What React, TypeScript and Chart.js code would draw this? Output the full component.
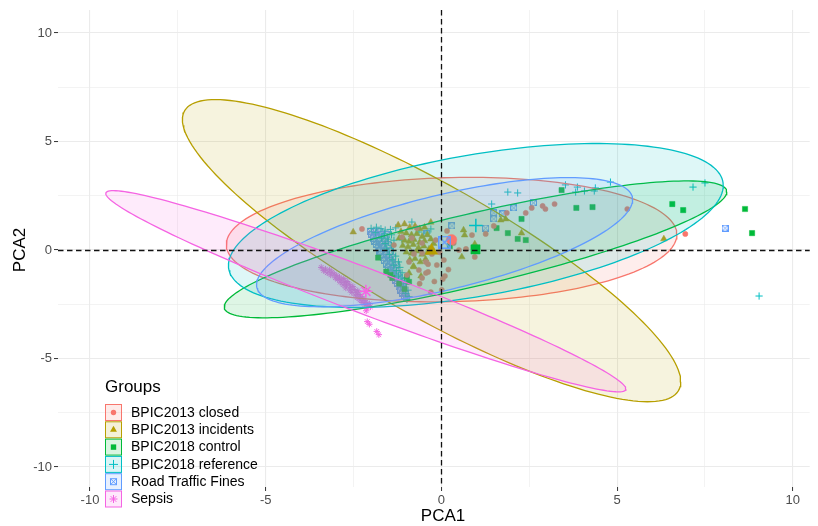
import React, { useEffect, useRef } from "react";
import { Chart, registerables } from "chart.js";

Chart.register(...registerables);

const FONT = "'Liberation Sans', Arial, Helvetica, sans-serif";

// ---------------- data ----------------
const groupNames = [
  "BPIC2013 closed",
  "BPIC2013 incidents",
  "BPIC2018 control",
  "BPIC2018 reference",
  "Road Traffic Fines",
  "Sepsis",
];
const groupColors = ["#F8766D", "#B79F00", "#00BA38", "#00BFC4", "#619CFF", "#F564E3"];
const groupShapes = ["circle", "triangle", "rect", "cross", "boxcross", "star"];

const axisTickValues = [-10, -5, 0, 5, 10];

// BPIC2013 closed
const closedX = [-2.26, -1.12, -0.84, -0.55, -0.44, -0.64, -0.98, -0.38, 0.04, 0.35, 0.07, -0.27, -0.55, -0.38, -0.55, 0.01, 0.1, -0.3, -0.44, -0.78, -0.16, -0.7, -1.35, -0.13, -0.92, -0.2, -0.62, 0.2, 0.16, 0.5, 0.7, 0.87, 1.26, 1.49, 0.95, 1.86, 2.4, 2.57, 2.88, 2.96, 3.22, 5.29, 6.94, -0.05];
const closedY = [0.97, 0.6, 0.55, 0.32, -0.55, -0.92, -1.15, -1.01, -1.34, 0.32, -0.46, -0.18, -0.14, -0.65, -1.29, -1.84, -1.2, -1.94, -1.06, -0.18, 0.46, 1.01, 0.23, -0.69, -0.55, -1.45, -1.55, -0.9, 0.88, 0.0, 0.05, 0.69, 0.74, 1.11, -0.32, 1.71, 1.71, 1.94, 2.03, 1.89, 2.12, 1.89, 0.74, -0.1];

// BPIC2013 incidents
const incidentsX = [-2.51, -1.23, -1.05, -0.9, -0.75, -0.62, -0.48, -1.15, -1.0, -0.85, -0.7, -0.55, -0.4, -1.2, -1.05, -0.92, -0.78, -0.62, -0.48, -0.3, -1.1, -0.95, -0.8, -0.65, -0.5, -0.35, -1.0, -0.85, -0.7, -0.55, -0.4, -0.9, -0.75, -0.6, -0.45, -0.8, -0.92, -0.78, -0.58, -0.22, 0.63, 0.66, 1.69, 1.83, 2.28, 0.58, 0.95, 6.33, -0.3];
const incidentsY = [0.83, 1.15, 1.2, 1.05, 1.1, 0.98, 1.05, 0.85, 0.78, 0.7, 0.75, 0.62, 0.7, 0.55, 0.45, 0.4, 0.48, 0.35, 0.42, 0.5, 0.2, 0.15, 0.25, 0.1, 0.18, 0.05, -0.1, -0.15, -0.05, -0.2, -0.12, -0.45, -0.4, -0.55, -0.42, -0.75, -1.06, -0.78, -1.2, 0.3, 0.92, 0.69, 1.38, 1.43, 0.78, -0.32, 0.28, 0.51, 1.28];

// BPIC2018 control
const controlX = [-1.57, -1.45, -1.4, -1.2, -0.98, -0.92, -1.05, -1.8, 0.24, 1.57, 1.89, 2.17, 2.4, 2.28, 3.42, 3.84, 4.3, 6.57, 6.88, 8.64, 8.84];
const controlY = [-1.0, -1.15, -1.28, -1.55, -1.24, -1.47, -1.8, -0.35, 0.18, 1.01, 0.78, 0.51, 0.46, 1.43, 2.76, 1.94, 1.98, 2.12, 1.84, 1.89, 0.78];

// BPIC2018 reference
const referenceX = [-2.0, -1.85, -1.72, -1.6, -1.45, -1.3, -1.88, -1.62, -1.42, -1.7, -1.52, -1.35, -1.6, -1.42, -1.55, -1.38, -1.48, -1.3, -1.4, -1.22, -1.35, -1.18, -1.28, -1.12, -1.22, -1.05, -1.15, -1.0, -1.08, -0.95, -1.02, -0.92, -0.98, -0.84, -0.64, -0.41, -1.12, -0.3, 1.43, 1.89, 2.17, 3.53, 3.82, 3.87, 4.07, 4.35, 4.38, 4.81, 7.16, 7.5, 9.04];
const referenceY = [1.0, 1.05, 0.98, 0.92, 0.95, 1.02, 0.8, 0.75, 0.7, 0.55, 0.5, 0.45, 0.3, 0.22, 0.05, -0.02, -0.2, -0.28, -0.45, -0.55, -0.7, -0.8, -0.95, -1.05, -1.2, -1.3, -1.45, -1.55, -1.7, -1.85, -2.0, -2.15, -2.28, 1.29, 0.83, 0.78, 0.46, 0.97, 2.12, 2.67, 2.63, 3.0, 2.67, 2.9, 2.72, 2.72, 2.86, 3.13, 2.9, 3.09, -2.12];

// Road Traffic Fines
const trafficX = [-2.02, -1.9, -1.75, -1.98, -1.85, -1.7, -1.55, -1.93, -1.8, -1.62, -1.9, -1.76, -1.6, -1.85, -1.7, -1.52, -1.8, -1.65, -1.76, -1.6, -1.45, -1.72, -1.55, -1.66, -1.5, -1.38, -1.62, -1.45, -1.56, -1.4, -1.28, -1.5, -1.35, -1.45, -1.3, -1.4, -1.25, -1.35, -1.2, -1.3, -1.15, -1.25, -1.12, -1.2, -1.08, -1.15, -1.1, -1.02, -1.05, -0.98, 0.3, 1.49, 1.49, 1.26, 1.74, 2.06, 2.62, 8.07, -0.41];
const trafficY = [0.85, 0.85, 0.85, 0.7, 0.7, 0.7, 0.7, 0.55, 0.55, 0.55, 0.4, 0.4, 0.4, 0.25, 0.25, 0.25, 0.1, 0.1, -0.05, -0.05, -0.05, -0.2, -0.2, -0.35, -0.35, -0.35, -0.5, -0.5, -0.65, -0.65, -0.65, -0.8, -0.8, -0.95, -0.95, -1.1, -1.1, -1.25, -1.25, -1.4, -1.4, -1.55, -1.55, -1.7, -1.7, -1.85, -2.0, -2.0, -2.15, -2.25, 1.11, 1.71, 1.43, 1.01, 1.66, 1.94, 2.17, 1.01, 0.74];

// Sepsis
const sepsisX = [-3.42, -3.3, -3.35, -3.18, -3.25, -3.12, -3.05, -3.15, -2.98, -3.02, -2.9, -2.95, -2.85, -2.78, -2.88, -2.75, -2.68, -2.8, -2.7, -2.62, -2.72, -2.58, -2.52, -2.6, -2.48, -2.55, -2.42, -2.38, -2.45, -2.35, -2.3, -2.4, -2.25, -2.32, -2.2, -2.26, -2.15, -2.18, -2.1, -2.05, -2.12, -2.02, -2.14, -2.11, -2.05, -1.84, -1.78];
const sepsisY = [-0.8, -0.88, -0.95, -0.92, -1.05, -1.02, -1.1, -1.15, -1.18, -1.28, -1.25, -1.35, -1.38, -1.32, -1.48, -1.5, -1.45, -1.6, -1.62, -1.58, -1.75, -1.72, -1.68, -1.85, -1.82, -1.95, -1.95, -1.88, -2.08, -2.05, -2.15, -2.2, -2.22, -2.3, -2.32, -2.42, -2.4, -2.52, -2.55, -2.48, -2.65, -2.62, -2.8, -3.3, -3.42, -3.75, -3.9];

const groupX = [closedX, incidentsX, controlX, referenceX, trafficX, sepsisX];
const groupY = [closedY, incidentsY, controlY, referenceY, trafficY, sepsisY];

// group means (ellipse centres)
const meanX = [0.29, -0.28, 0.97, 0.98, 0.09, -2.15];
const meanY = [0.48, -0.03, 0.03, 1.13, 0.36, -1.9];
// ellipse conjugate semi-diameters: U = (ux, uy), V = (0, v)
const ellipseUx = [6.41, 7.09, 7.15, 7.04, 5.35, 7.4];
const ellipseUy = [0.23, -6.04, 2.65, 1.84, 1.96, -4.5];
const ellipseV = [2.86, 3.46, 1.71, 3.3, 2.24, 1.11];

// ---------------- helpers ----------------
const X_MIN = -10.91;
const X_MAX = 10.48;
const Y_MIN = -10.92;
const Y_MAX = 11.06;

function rgba(hex: string, a: number) {
  const n = parseInt(hex.slice(1), 16);
  return `rgba(${(n >> 16) & 255},${(n >> 8) & 255},${n & 255},${a})`;
}

function ellipseOutline(i: number) {
  const pts: { x: number; y: number }[] = [];
  const n = 180;
  for (let k = 0; k <= n; k++) {
    const t = (2 * Math.PI * k) / n;
    pts.push({
      x: meanX[i] + ellipseUx[i] * Math.cos(t),
      y: meanY[i] + ellipseUy[i] * Math.cos(t) + ellipseV[i] * Math.sin(t),
    });
  }
  return pts;
}

function makeBoxCross(size: number, color: string, lw: number) {
  const c = document.createElement("canvas");
  c.width = size;
  c.height = size;
  const g = c.getContext("2d")!;
  g.strokeStyle = color;
  g.lineWidth = lw;
  const p = lw / 2;
  g.strokeRect(p, p, size - lw, size - lw);
  g.beginPath();
  g.moveTo(p, p);
  g.lineTo(size - p, size - p);
  g.moveTo(size - p, p);
  g.lineTo(p, size - p);
  g.stroke();
  return c;
}

function drawSymbol(ctx: CanvasRenderingContext2D, shape: string, cx: number, cy: number, color: string) {
  ctx.save();
  ctx.fillStyle = color;
  ctx.strokeStyle = color;
  ctx.lineWidth = 1;
  ctx.beginPath();
  if (shape === "circle") {
    ctx.arc(cx, cy, 2.7, 0, Math.PI * 2);
    ctx.fill();
  } else if (shape === "triangle") {
    const r = 4;
    ctx.moveTo(cx, cy - r);
    ctx.lineTo(cx + r * 0.866, cy + r * 0.5);
    ctx.lineTo(cx - r * 0.866, cy + r * 0.5);
    ctx.closePath();
    ctx.fill();
  } else if (shape === "rect") {
    ctx.fillRect(cx - 2.7, cy - 2.7, 5.4, 5.4);
  } else if (shape === "cross") {
    ctx.moveTo(cx - 4.5, cy);
    ctx.lineTo(cx + 4.5, cy);
    ctx.moveTo(cx, cy - 4.5);
    ctx.lineTo(cx, cy + 4.5);
    ctx.stroke();
  } else if (shape === "boxcross") {
    const s = 3;
    ctx.strokeRect(cx - s, cy - s, 2 * s, 2 * s);
    ctx.moveTo(cx - s, cy - s);
    ctx.lineTo(cx + s, cy + s);
    ctx.moveTo(cx + s, cy - s);
    ctx.lineTo(cx - s, cy + s);
    ctx.stroke();
  } else if (shape === "star") {
    const r = 4;
    for (let k = 0; k < 4; k++) {
      const a = (k * Math.PI) / 4;
      ctx.moveTo(cx - r * Math.sin(a), cy - r * Math.cos(a));
      ctx.lineTo(cx + r * Math.sin(a), cy + r * Math.cos(a));
    }
    ctx.stroke();
  }
  ctx.restore();
}

const decorPlugin = {
  id: "decor",
  afterDatasetsDraw(chart: any) {
    const { ctx, chartArea: a, scales } = chart;
    const x0 = Math.round(scales.x.getPixelForValue(0)) + 0.5;
    const y0 = Math.round(scales.y.getPixelForValue(0)) + 0.5;
    ctx.save();
    ctx.strokeStyle = "#111111";
    ctx.lineWidth = 1.3;
    ctx.setLineDash([5.5, 3.5]);
    ctx.beginPath();
    ctx.moveTo(x0, a.top);
    ctx.lineTo(x0, a.bottom);
    ctx.moveTo(a.left, y0);
    ctx.lineTo(a.right, y0);
    ctx.stroke();
    ctx.restore();
  },
  afterDraw(chart: any) {
    const { ctx } = chart;
    ctx.save();
    // axis titles
    ctx.fillStyle = "#000000";
    ctx.font = `17px ${FONT}`;
    ctx.textAlign = "center";
    ctx.textBaseline = "middle";
    ctx.fillText("PCA1", 443, 516);
    ctx.save();
    ctx.translate(20, 250);
    ctx.rotate(-Math.PI / 2);
    ctx.fillText("PCA2", 0, 0);
    ctx.restore();

    // legend
    ctx.textAlign = "left";
    ctx.font = `17px ${FONT}`;
    ctx.fillStyle = "#000000";
    ctx.fillText("Groups", 105, 387);
    ctx.font = `14px ${FONT}`;
    const rowH = 17.3;
    for (let i = 0; i < groupNames.length; i++) {
      const cy = 412.5 + i * rowH;
      const bx = 105.5;
      const by = cy - 8;
      ctx.fillStyle = rgba(groupColors[i], 0.15);
      ctx.fillRect(bx, by, 16, 16);
      ctx.strokeStyle = groupColors[i];
      ctx.lineWidth = 1;
      ctx.strokeRect(bx, by, 16, 16);
      drawSymbol(ctx, groupShapes[i], bx + 8, cy, groupColors[i]);
      ctx.fillStyle = "#000000";
      ctx.fillText(groupNames[i], 131, cy + 0.5);
    }
    ctx.restore();
  },
};

const isMajor = (v: number) => axisTickValues.indexOf(v) >= 0;

export default function App() {
  const ref = useRef<HTMLCanvasElement>(null);

  useEffect(() => {
    const canvas = ref.current!;
    const boxSmall = makeBoxCross(7, groupColors[4], 1);
    const boxBig = makeBoxCross(13, groupColors[4], 1.4);

    const smallRadius: Record<string, number> = { circle: 2.6, triangle: 3.8, rect: 3.7, cross: 3.6, boxcross: 3, star: 3.2 };
    const bigRadius: Record<string, number> = { circle: 5.2, triangle: 7.2, rect: 6.5, cross: 6.8, boxcross: 6, star: 6.5 };

    const datasets: any[] = [];
    // points (drawn first / underneath)
    groupNames.forEach((name, i) => {
      const shape = groupShapes[i];
      datasets.push({
        type: "scatter",
        label: name,
        data: groupX[i].map((x, j) => ({ x, y: groupY[i][j] })),
        pointStyle: shape === "boxcross" ? boxSmall : shape,
        pointRadius: smallRadius[shape],
        backgroundColor: groupColors[i],
        borderColor: groupColors[i],
        borderWidth: shape === "cross" || shape === "star" ? 1 : 0.5,
        showLine: false,
        order: 100 + i,
      });
    });
    // ellipses on top of points
    groupNames.forEach((name, i) => {
      datasets.push({
        type: "line",
        label: name + " ellipse",
        data: ellipseOutline(i),
        borderColor: groupColors[i],
        borderWidth: 1.3,
        backgroundColor: rgba(groupColors[i], 0.13),
        fill: "shape",
        pointRadius: 0,
        tension: 0,
        order: 50 - i,
      });
    });
    // group means
    groupNames.forEach((name, i) => {
      const shape = groupShapes[i];
      datasets.push({
        type: "scatter",
        label: name + " mean",
        data: [{ x: meanX[i], y: meanY[i] }],
        pointStyle: shape === "boxcross" ? boxBig : shape,
        pointRadius: bigRadius[shape],
        backgroundColor: groupColors[i],
        borderColor: groupColors[i],
        borderWidth: shape === "cross" || shape === "star" ? 1.5 : 0.5,
        showLine: false,
        order: 10 - i,
      });
    });

    const gridCfg = {
      color: "#EBEBEB",
      lineWidth: (c: any) => (c.tick && isMajor(c.tick.value) ? 1.1 : 0.6),
      tickColor: (c: any) => (c.tick && isMajor(c.tick.value) ? "#333333" : "rgba(0,0,0,0)"),
      tickLength: 4,
      tickWidth: 1,
    };
    const tickCfg = {
      stepSize: 2.5,
      includeBounds: false,
      autoSkip: false,
      maxRotation: 0,
      padding: 2,
      color: "#4D4D4D",
      font: { family: FONT, size: 13 },
      callback: (v: any) => (isMajor(Number(v)) ? String(v) : ""),
    };

    const chart = new Chart(canvas, {
      type: "scatter",
      data: { datasets },
      options: {
        responsive: false,
        animation: false,
        events: [],
        layout: { padding: { left: 0, right: 4, top: 10, bottom: 0 } },
        plugins: { legend: { display: false }, tooltip: { enabled: false } },
        scales: {
          x: {
            type: "linear",
            min: X_MIN,
            max: X_MAX,
            border: { display: false },
            grid: gridCfg,
            ticks: tickCfg,
            afterFit: (s: any) => {
              s.height = 39;
            },
          },
          y: {
            type: "linear",
            min: Y_MIN,
            max: Y_MAX,
            border: { display: false },
            grid: gridCfg,
            ticks: tickCfg,
            afterFit: (s: any) => {
              s.width = 58;
            },
          },
        },
      } as any,
      plugins: [decorPlugin],
    });
    return () => chart.destroy();
  }, []);

  return (
    <div style={{ position: "fixed", left: 0, top: 0, width: 818, height: 526, background: "#ffffff" }}>
      <canvas ref={ref} width={818} height={526} style={{ display: "block", width: 818, height: 526 }} />
    </div>
  );
}
